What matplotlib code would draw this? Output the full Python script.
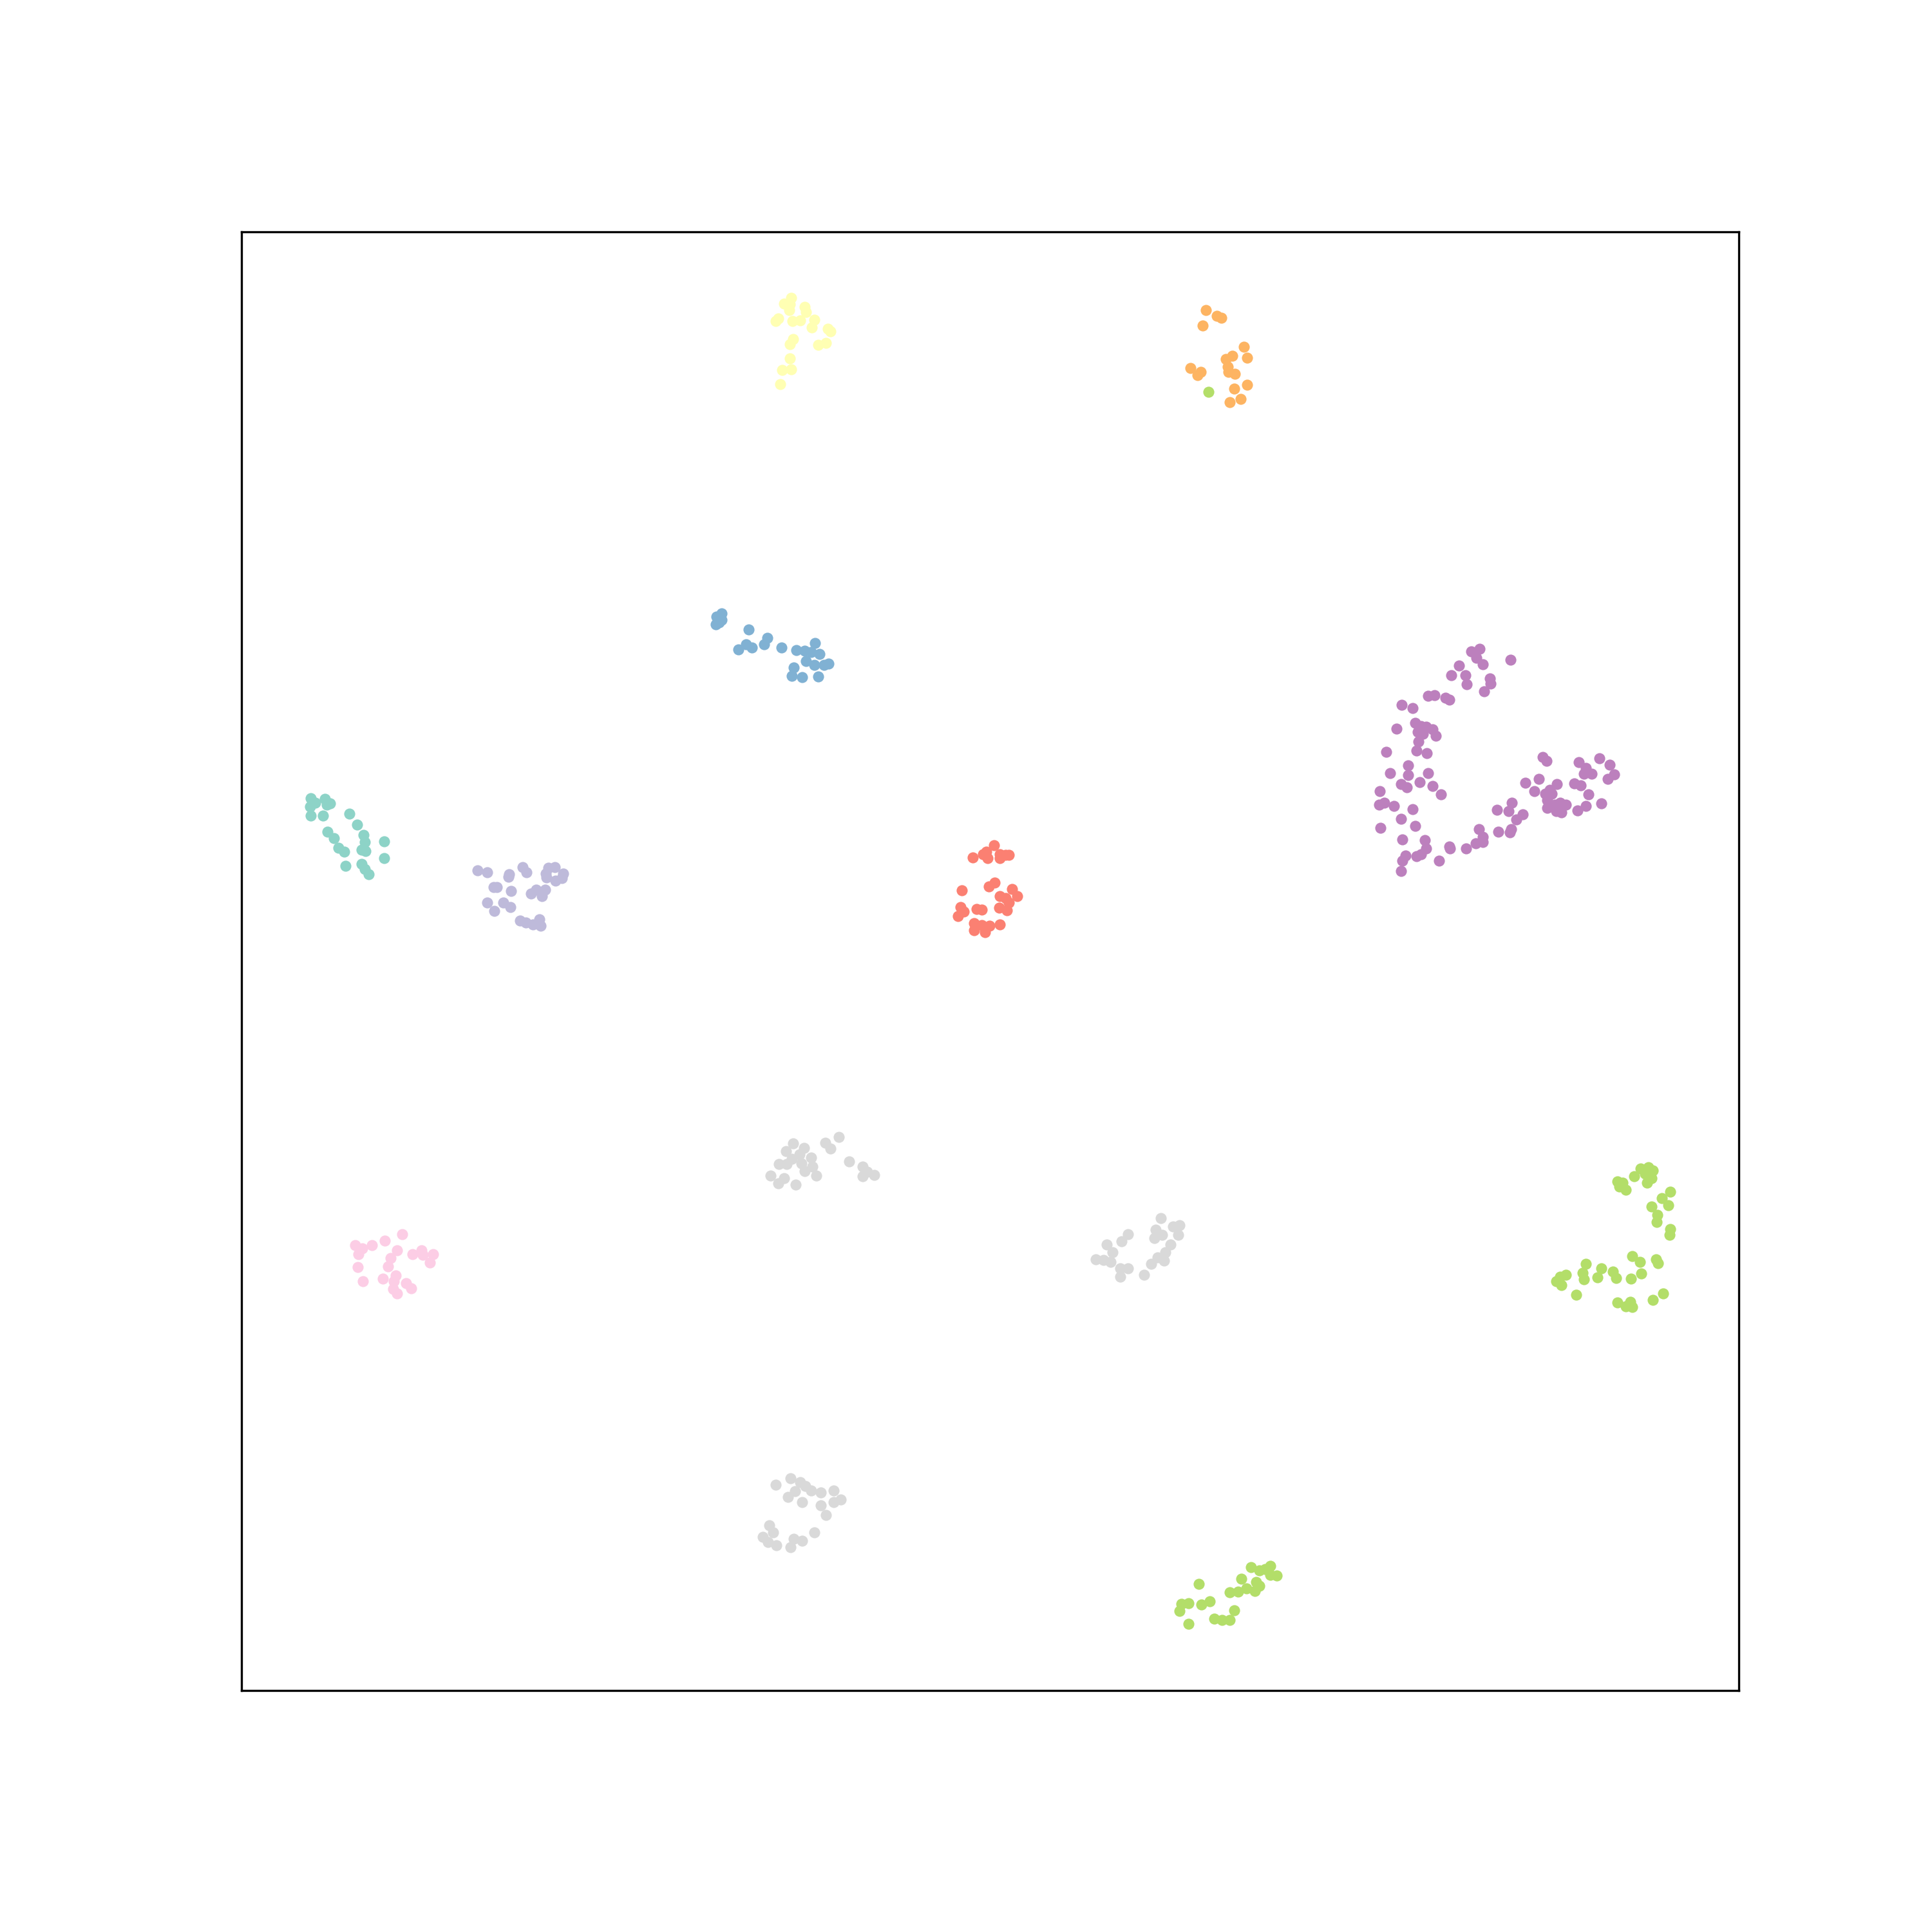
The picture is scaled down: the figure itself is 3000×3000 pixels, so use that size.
import matplotlib

matplotlib.use("Agg")
import matplotlib.pyplot as plt
import numpy as np

# embedding coordinates (y grows downward)
teal_x = [483, 505, 513, 508, 482, 483, 502, 490, 543, 555, 509, 519, 526, 535, 565, 567, 562, 568, 597, 597, 537, 562, 567, 573]
teal_y = [1240, 1241, 1248, 1250, 1253, 1267, 1267, 1247, 1264, 1281, 1292, 1302, 1317, 1323, 1297, 1308, 1320, 1322, 1307, 1333, 1345, 1342, 1350, 1358]

yellow_x = [1229, 1218, 1227, 1226, 1250, 1252, 1209, 1205, 1231, 1243, 1265, 1261, 1286, 1290, 1232, 1227, 1271, 1283, 1227, 1215, 1229, 1212]
yellow_y = [463, 472, 473, 482, 477, 485, 495, 499, 499, 498, 497, 509, 511, 515, 527, 535, 536, 533, 557, 575, 574, 597]

lavender_x = [742, 757, 791, 790, 812, 818, 848, 852, 862, 875, 873, 863, 849, 767, 772, 794, 825, 833, 847, 842, 757, 768, 782, 793, 808, 817, 828, 838, 840]
lavender_y = [1352, 1355, 1358, 1362, 1347, 1355, 1357, 1348, 1347, 1357, 1364, 1368, 1363, 1378, 1378, 1384, 1388, 1382, 1382, 1392, 1402, 1415, 1402, 1409, 1430, 1433, 1436, 1428, 1438]

red_x = [1511, 1532, 1544, 1527, 1534, 1553, 1553, 1567, 1562, 1545, 1536, 1494, 1572, 1580, 1553, 1562, 1567, 1552, 1564, 1492, 1497, 1488, 1517, 1525, 1513, 1513, 1525, 1537, 1530, 1553]
red_y = [1332, 1323, 1313, 1327, 1333, 1327, 1333, 1328, 1328, 1371, 1377, 1383, 1381, 1392, 1392, 1395, 1402, 1410, 1414, 1409, 1416, 1423, 1412, 1413, 1434, 1445, 1437, 1438, 1448, 1436]

blue_x = [1121, 1113, 1121, 1112, 1117, 1163, 1147, 1159, 1168, 1187, 1192, 1214, 1237, 1250, 1266, 1273, 1260, 1252, 1265, 1280, 1287, 1233, 1230, 1246, 1271]
blue_y = [953, 958, 963, 970, 967, 978, 1009, 1001, 1006, 1001, 991, 1006, 1010, 1011, 999, 1016, 1013, 1027, 1033, 1033, 1031, 1037, 1050, 1052, 1051]

orange_x = [1873, 1890, 1897, 1868, 1932, 1937, 1904, 1914, 1907, 1849, 1865, 1860, 1908, 1918, 1937, 1917, 1927, 1910]
orange_y = [482, 491, 494, 506, 539, 556, 558, 553, 570, 572, 578, 583, 578, 581, 598, 604, 620, 625]

green_x = [2548, 2560, 2567, 2555, 2565, 2558, 2538, 2512, 2520, 2525, 2515, 2594, 2581, 2591, 2565, 2574, 2573, 2594, 2593,
           2535, 2547, 2572, 2575, 2463, 2458, 2460, 2487, 2481, 2505, 2510, 2533, 2549, 2432, 2423, 2417, 2425, 2448,
           2512, 2525, 2532, 2535, 2567, 2583,
           1943, 1956, 1965, 1973, 1983, 1973, 1928, 1951, 1956, 1949, 1936, 1923, 1910, 1862, 1835, 1846, 1832, 1866,
           1879, 1917, 1886, 1898, 1910, 1846,
           1877]
green_y = [1815, 1813, 1818, 1823, 1830, 1837, 1827, 1835, 1837, 1848, 1843, 1851, 1861, 1872, 1874, 1887, 1898, 1909, 1918,
           1951, 1960, 1956, 1962, 1963, 1977, 1987, 1970, 1984, 1975, 1985, 1986, 1978, 1980, 1983, 1990, 1996, 2011,
           2023, 2029, 2022, 2030, 2019, 2009,
           2434, 2439, 2437, 2432, 2447, 2446, 2452, 2457, 2463, 2471, 2467, 2472, 2473, 2460, 2491, 2490, 2502, 2492,
           2487, 2501, 2514, 2516, 2516, 2522,
           609]

pink_x = [552, 563, 578, 557, 598, 625, 617, 641, 655, 657, 673, 668, 607, 603, 556, 564, 595, 615, 612, 611, 617, 631, 639]
pink_y = [1934, 1939, 1934, 1948, 1927, 1917, 1942, 1948, 1942, 1949, 1948, 1961, 1954, 1967, 1968, 1990, 1986, 1981, 1990, 2002, 2009, 1993, 2001]

gray_x = [1232, 1249, 1221, 1242, 1260, 1210, 1222, 1230, 1245, 1262, 1250, 1268, 1197, 1218, 1209, 1236, 1282, 1290, 1303, 1319, 1340, 1340, 1358, 1347,
          1702, 1714, 1719, 1728, 1725, 1740, 1752, 1740, 1742, 1752, 1777, 1788, 1798, 1808, 1810, 1818, 1803, 1795, 1805, 1793, 1822, 1832, 1830,
          1205, 1228, 1243, 1251, 1235, 1224, 1246, 1260, 1275, 1295, 1306, 1295, 1275, 1283, 1195, 1201, 1185, 1193, 1206, 1228, 1233, 1246, 1265]
gray_y = [1776, 1783, 1788, 1793, 1798, 1808, 1808, 1800, 1807, 1812, 1819, 1826, 1826, 1830, 1838, 1840, 1775, 1784, 1766, 1804, 1812, 1827, 1825, 1820,
          1956, 1957, 1933, 1945, 1960, 1970, 1970, 1983, 1928, 1917, 1980, 1963, 1953, 1958, 1945, 1933, 1892, 1910, 1918, 1923, 1905, 1903, 1918,
          2306, 2296, 2302, 2308, 2316, 2325, 2333, 2315, 2318, 2315, 2329, 2333, 2338, 2353, 2369, 2380, 2387, 2395, 2400, 2403, 2390, 2393, 2380]

purple_x = [2285, 2298, 2293, 2303, 2346, 2266, 2254, 2276, 2278, 2314, 2315, 2305, 2218, 2228, 2245, 2251, 2177, 2194, 2198, 2169,
            2207, 2215, 2225, 2202, 2210, 2230, 2203, 2200, 2216, 2153, 2187, 2159, 2187, 2218, 2176, 2185, 2205, 2225, 2238, 2143,
            2150, 2142, 2165, 2194, 2176, 2144, 2198, 2178, 2213, 2215, 2200, 2207, 2183, 2178, 2176, 2235, 2251, 2252, 2277, 2292,
            2297, 2303, 2303, 2327, 2347, 2345, 2355, 2365, 2348, 2343, 2325, 2369, 2383, 2390, 2396, 2402, 2407, 2418, 2400, 2410,
            2403, 2403, 2415, 2423, 2432, 2417, 2425, 2445, 2455, 2467, 2463, 2450, 2487, 2452, 2463, 2472, 2460, 2484, 2500, 2507, 2497]
purple_y = [1012, 1008, 1022, 1032, 1025, 1034, 1049, 1049, 1063, 1054, 1062, 1074, 1081, 1080, 1084, 1087, 1095, 1100, 1123, 1132,
            1128, 1129, 1133, 1137, 1140, 1143, 1152, 1166, 1170, 1168, 1189, 1201, 1204, 1201, 1218, 1223, 1215, 1221, 1234, 1229,
            1247, 1250, 1252, 1257, 1272, 1286, 1283, 1304, 1305, 1318, 1330, 1327, 1329, 1337, 1353, 1337, 1315, 1318, 1318, 1310,
            1288, 1300, 1308, 1292, 1288, 1293, 1273, 1265, 1247, 1260, 1258, 1216, 1229, 1210, 1176, 1182, 1227, 1218, 1233, 1233,
            1243, 1255, 1250, 1247, 1250, 1260, 1262, 1217, 1220, 1234, 1252, 1259, 1248, 1184, 1193, 1202, 1202, 1178, 1188, 1203, 1210]

clusters = [
    (teal_x, teal_y, 0),
    (yellow_x, yellow_y, 1),
    (lavender_x, lavender_y, 2),
    (red_x, red_y, 3),
    (blue_x, blue_y, 4),
    (orange_x, orange_y, 5),
    (green_x, green_y, 6),
    (pink_x, pink_y, 7),
    (gray_x, gray_y, 8),
    (purple_x, purple_y, 9),
]

xs, ys, labels = [], [], []
for cx, cy, lab in clusters:
    xs += cx
    ys += cy
    labels += [lab] * len(cx)

fig = plt.figure(figsize=(10, 10), dpi=300)
ax = fig.add_axes([0.125, 0.125, 0.775, 0.755])
ax.scatter(np.array(xs), np.array(ys), c=np.array(labels), cmap="Set3", vmin=0, vmax=11, s=17, linewidths=0)
ax.set_xlim(375, 2700)
ax.set_ylim(2625, 360)
ax.set_xticks([])
ax.set_yticks([])
fig.savefig("out.png", dpi=300)
plt.close()
